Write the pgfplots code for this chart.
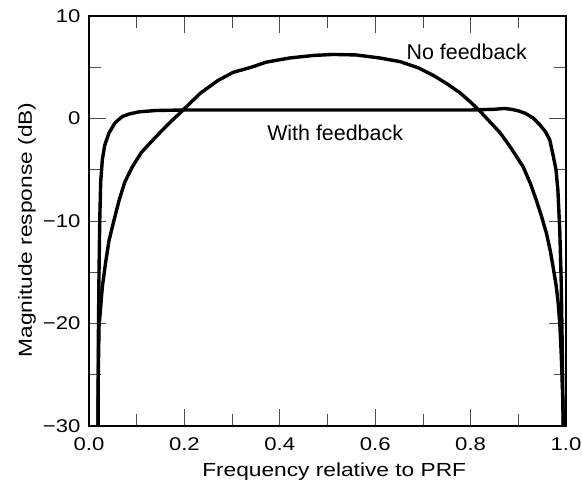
\documentclass[border=0pt]{standalone}
\usepackage{pgfplots}
\pgfplotsset{compat=1.18}
\usepackage{fontspec}
\setmainfont{Liberation Sans}
\newfontfamily\widesans{Liberation Sans}[FakeStretch=1.2]
\begin{document}
\begin{tikzpicture}
\begin{axis}[
  name=ax,
  scale only axis,
  width=477bp, height=410bp,
  xmin=0, xmax=1, ymin=-30, ymax=10,
  xtick={0,0.2,0.4,0.6,0.8,1},
  xticklabels={0.0,0.2,0.4,0.6,0.8,1.0},
  ytick={-30,-20,-10,0,10},
  yticklabels={−30,−20,−10,0,10},
  minor x tick num=1, minor y tick num=1,
  tick align=inside,
  major tick length=17bp, minor tick length=12bp,
  every tick/.style={line width=0.8bp, black!70},
  axis line style={line width=2.6bp},
  tick label style={font=\widesans\fontsize{18.5}{20}\selectfont},
  label style={font=\widesans\fontsize{19}{21}\selectfont},
  xlabel={Frequency relative to PRF},
  ylabel={Magnitude response (dB)},
  xlabel style={at={(rel axis cs:0.514,-0.1237)}, anchor=base},
  ylabel style={at={(rel axis cs:-0.1195,0.478)}, anchor=base},
  xticklabel style={yshift=-8bp},
  yticklabel style={xshift=-5bp},
  clip=true,
]
\addplot[line width=3.4bp, line join=round] coordinates {
(0.019,-30) (0.0195,-22) (0.021,-15) (0.0225,-10) (0.0245,-6.2) (0.028,-4) (0.033,-2.6) (0.042,-1.4) (0.055,-0.4) (0.07,0.2) (0.085,0.45) (0.105,0.65) (0.14,0.78) (0.2,0.83) (0.5,0.83) (0.8,0.83) (0.85,0.9) (0.87,0.98) (0.885,0.9) (0.9,0.75) (0.915,0.5) (0.931,0.05) (0.945,-0.6) (0.957,-1.3) (0.966,-2.1) (0.973,-3.6) (0.979,-5) (0.983,-7) (0.987,-11) (0.990,-16) (0.992,-22) (0.994,-30)
};
\addplot[line width=3.4bp, line join=round] coordinates {
(0.019,-30) (0.0195,-25) (0.021,-20.3) (0.028,-16.4) (0.035,-14) (0.042,-11.9) (0.052,-10) (0.063,-8) (0.075,-6.2) (0.091,-4.7) (0.11,-3.3) (0.14,-1.8) (0.165,-0.6) (0.19,0.5) (0.233,2.45) (0.27,3.7) (0.302,4.5) (0.34,5.0) (0.372,5.5) (0.42,5.9) (0.47,6.15) (0.512,6.25) (0.56,6.2) (0.61,5.9) (0.652,5.55) (0.69,4.95) (0.722,4.2) (0.75,3.4) (0.778,2.5) (0.80,1.6) (0.82,0.7) (0.84,-0.3) (0.862,-1.4) (0.885,-2.9) (0.91,-4.7) (0.925,-6.3) (0.938,-8) (0.949,-9.6) (0.959,-11.2) (0.967,-12.9) (0.973,-14.5) (0.979,-16.2) (0.983,-17.7) (0.987,-20) (0.990,-23) (0.993,-27) (0.995,-30)
};
\node[font=\fontsize{21.5}{23}\selectfont] at (axis cs:0.792,6.5) {No feedback};
\node[font=\fontsize{21.5}{23}\selectfont] at (axis cs:0.516,-1.4) {With feedback};
\end{axis}
\pgfresetboundingbox
\path ([xshift=-89bp,yshift=-58bp]ax.south west) rectangle ([xshift=16bp,yshift=16bp]ax.north east);
\end{tikzpicture}
\end{document}
